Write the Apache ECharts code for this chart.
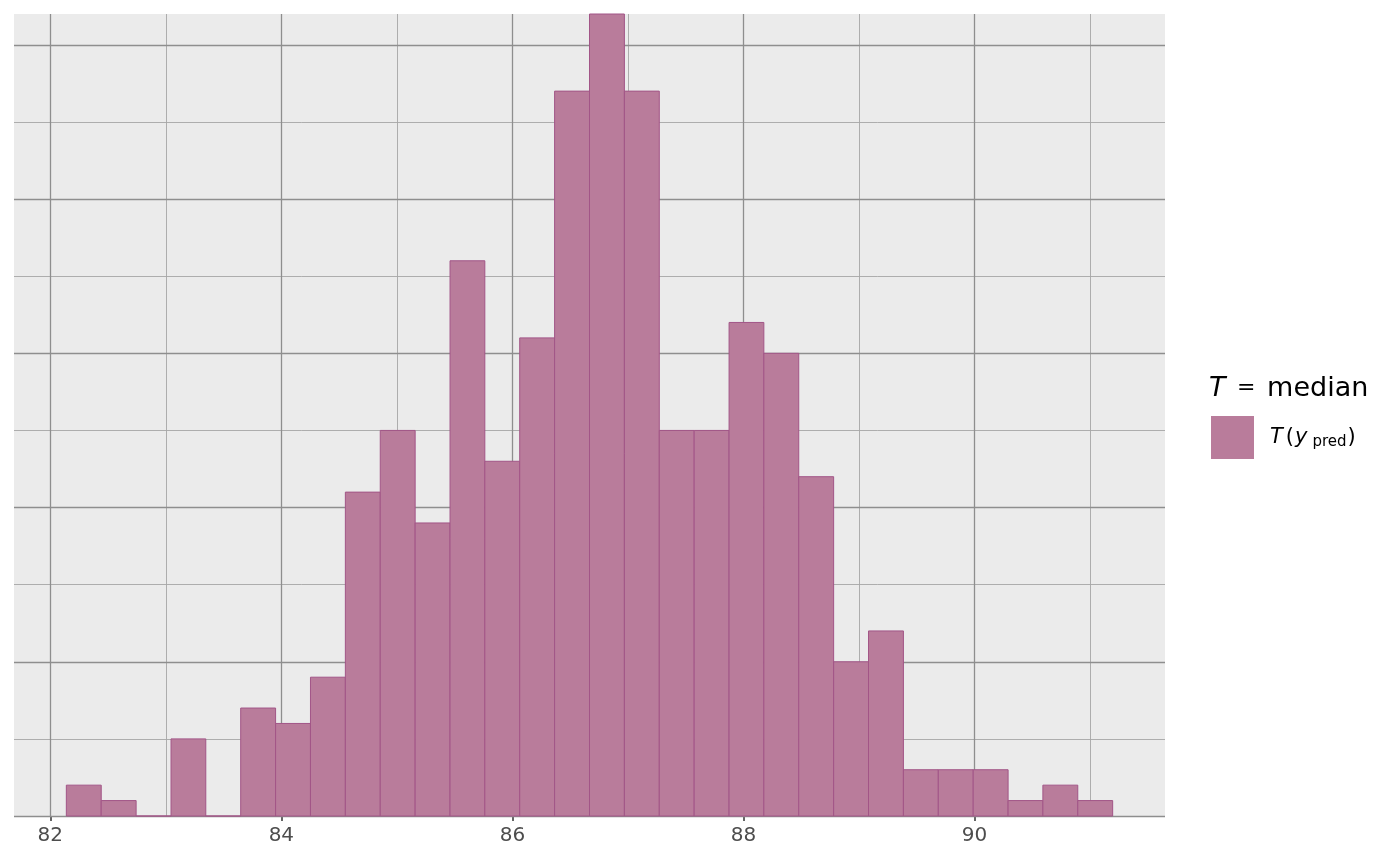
<!DOCTYPE html>
<html>
<head>
<meta charset="utf-8">
<script src="https://cdn.jsdelivr.net/npm/echarts@6/dist/echarts.min.js"></script>
<style>html,body{margin:0;padding:0;background:#fff}#c{width:1400px;height:866px}</style>
</head>
<body>
<div id="c"></div>
<script>
// Histogram bin edges (31 edges -> 30 bins)
var binEdges = [82.139, 82.441, 82.743, 83.045, 83.346, 83.648, 83.950, 84.252, 84.554, 84.856,
  85.158, 85.460, 85.761, 86.063, 86.365, 86.667, 86.969, 87.271, 87.573, 87.875,
  88.176, 88.478, 88.780, 89.082, 89.384, 89.686, 89.988, 90.290, 90.591, 90.893, 91.195];
// counts per bin
var counts = [2, 1, 0, 5, 0, 7, 6, 9, 21, 25, 19, 36, 23, 31, 47, 52, 47, 25, 25, 32, 30, 22, 10, 12, 3, 3, 3, 1, 2, 1];
// axis tick labels
var xTickLabels = [82, 84, 86, 88, 90];
var xMinorGrid = [83, 85, 87, 89, 91];
var yMajorGrid = [0, 10, 20, 30, 40, 50];
var yMinorGrid = [5, 15, 25, 35, 45];

var barData = [];
for (var i = 0; i < counts.length; i++) barData.push([binEdges[i], binEdges[i + 1], counts[i]]);

function vLines(arr) { return arr.map(function (v) { return { xAxis: v }; }); }
function hLines(arr) { return arr.map(function (v) { return { yAxis: v }; }); }

var chart = echarts.init(document.getElementById('c'));
var FONT = 'DejaVu Sans';
chart.setOption({
  animation: false,
  textStyle: { fontFamily: FONT },
  title: {
    text: '{i|T} {e|=} median',
    left: 1209, top: 375, padding: 0,
    textStyle: {
      fontSize: 27, fontWeight: 'normal', color: '#000', fontFamily: FONT,
      rich: {
        i: { fontStyle: 'italic', fontSize: 27, color: '#000', fontFamily: FONT },
        e: { fontSize: 22, color: '#000', fontFamily: FONT, padding: [0, 3, 0, 3] }
      }
    }
  },
  legend: {
    left: 1211, top: 416, padding: 0,
    itemWidth: 43, itemHeight: 43,
    icon: 'rect',
    data: [{ name: 'pred', itemStyle: { color: '#b97c9b', borderWidth: 0 } }],
    formatter: function () { return '{i|T}{p|(}{i|y}{s|pred}{n|)}'; },
    textStyle: {
      color: '#000', fontFamily: FONT, fontSize: 21,
      padding: [0, 0, 0, 11],
      rich: {
        i: { fontStyle: 'italic', fontSize: 21, color: '#000', fontFamily: FONT },
        p: { fontSize: 21, color: '#000', fontFamily: FONT, padding: [0, 1, 0, 3] },
        n: { fontSize: 21, color: '#000', fontFamily: FONT },
        s: { fontSize: 15, color: '#000', fontFamily: FONT, padding: [10, 1, 0, 5] }
      }
    }
  },
  grid: {
    left: 14, right: 235, top: 14, bottom: 50,
    show: true, backgroundColor: '#ebebeb', borderWidth: 0
  },
  xAxis: {
    type: 'value', min: 81.686, max: 91.648,
    splitLine: { show: false },
    axisLine: { show: false },
    axisTick: { show: true, customValues: xTickLabels, length: 5, lineStyle: { color: '#333', width: 1.5 } },
    axisLabel: { customValues: xTickLabels, color: '#4d4d4d', fontSize: 20, margin: 10, fontFamily: FONT }
  },
  yAxis: {
    type: 'value', min: 0, max: 52,
    show: true,
    splitLine: { show: false },
    axisLine: { show: false }, axisTick: { show: false }, axisLabel: { show: false }
  },
  series: [
    {
      type: 'line', data: [], silent: true, z: 1,
      markLine: {
        silent: true, symbol: 'none', label: { show: false }, z: 1,
        lineStyle: { color: '#a6a6a6', width: 0.9, type: 'solid' },
        data: vLines(xMinorGrid).concat(hLines(yMinorGrid))
      }
    },
    {
      type: 'line', data: [], silent: true, z: 1,
      markLine: {
        silent: true, symbol: 'none', label: { show: false }, z: 1,
        lineStyle: { color: '#8e8e8e', width: 1.3, type: 'solid' },
        data: vLines(xTickLabels).concat(hLines(yMajorGrid))
      }
    },
    {
      name: 'pred',
      type: 'custom', z: 10,
      itemStyle: { color: '#b97c9b' },
      encode: { x: [0, 1], y: 2 },
      data: barData,
      renderItem: function (params, api) {
        var p0 = api.coord([api.value(0), api.value(2)]);
        var p1 = api.coord([api.value(1), 0]);
        return {
          type: 'rect',
          shape: { x: p0[0], y: p0[1], width: p1[0] - p0[0], height: p1[1] - p0[1] },
          style: { fill: '#b97c9b', stroke: '#a25587', lineWidth: 1 }
        };
      }
    }
  ]
});
</script>
</body>
</html>
